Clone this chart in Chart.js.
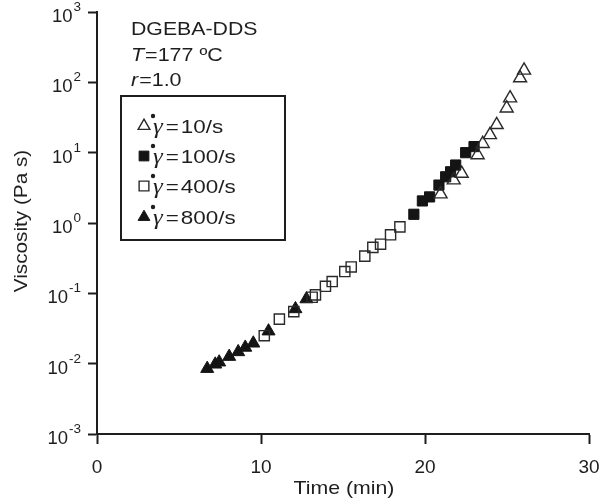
<!DOCTYPE html>
<html>
<head>
<meta charset="utf-8">
<script src="https://cdn.jsdelivr.net/npm/chart.js@4.4.1/dist/chart.umd.min.js"></script>
<style>
html,body{margin:0;padding:0;background:#fff;}
#wrap{width:603px;height:501px;}
</style>
</head>
<body>
<div id="wrap"><canvas id="c" width="603" height="501"></canvas></div>
<script>
// ---- data ----
const rateLabels = ['10/s', '100/s', '400/s', '800/s'];

const time10 = [20.95, 21.75, 22.24, 23.21, 23.52, 23.96, 24.37, 24.98, 25.19, 25.80, 26.04];
const visc10 = [2.57, 4.07, 5.05, 9.27, 13.4, 17.9, 24.9, 42.9, 59.7, 115, 148];

const time100 = [19.32, 19.84, 20.28, 20.85, 21.26, 21.56, 21.87, 22.48, 22.99];
const visc100 = [1.33, 2.06, 2.35, 3.46, 4.54, 5.35, 6.67, 10.0, 12.2];

const time400 = [10.20, 11.12, 12.0, 13.12, 13.32, 13.93, 14.34, 15.11, 15.50, 16.33, 16.82, 17.29, 17.90, 18.47];
const visc400 = [0.025, 0.043, 0.055, 0.088, 0.095, 0.126, 0.147, 0.204, 0.237, 0.338, 0.45, 0.50, 0.68, 0.88];

const time800 = [6.72, 7.21, 7.45, 8.06, 8.61, 9.04, 9.53, 10.46, 12.1, 12.77];
const visc800 = [0.0085, 0.0098, 0.0105, 0.0126, 0.0147, 0.017, 0.0195, 0.029, 0.060, 0.083];

const xTicks = [0, 10, 20, 30];
const yExponents = [3, 2, 1, 0, -1, -2, -3];

const annotLines = ['DGEBA-DDS', 'T', '=177 ºC', 'r', '=1.0'];
const xTitle = 'Time (min)';
const yTitle = 'Viscosity (Pa s)';

// ---- helpers ----
const FONT = "'Liberation Sans', Arial, sans-serif";
const SERIF = "'Liberation Serif', 'Times New Roman', serif";
const INK = '#1e1e1e';
const pts = (xs, ys) => xs.map((x, i) => ({x: x, y: ys[i]}));

function runs(ctx, list, x, y, sx) {
  let cx = x;
  for (const r of list) {
    ctx.save();
    ctx.font = r.font;
    ctx.textAlign = 'left';
    ctx.textBaseline = 'alphabetic';
    ctx.fillStyle = INK;
    ctx.translate(cx, y + (r.dy || 0));
    ctx.scale(sx, 1);
    ctx.fillText(r.t, 0, 0);
    const w = ctx.measureText(r.t).width;
    ctx.restore();
    cx += w * sx + (r.gap || 0);
  }
  return cx;
}

const hollow = {backgroundColor: 'rgba(0,0,0,0)', borderColor: '#2a2a2a', borderWidth: 1.4};
const filled = {backgroundColor: '#141414', borderColor: '#141414', borderWidth: 1};

const datasets = [
  Object.assign({label: rateLabels[0], data: pts(time10, visc10), pointStyle: 'triangle', pointRadius: 7.5}, hollow),
  Object.assign({label: rateLabels[1], data: pts(time100, visc100), pointStyle: 'rect', pointRadius: 7.2}, filled),
  Object.assign({label: rateLabels[2], data: pts(time400, visc400), pointStyle: 'rect', pointRadius: 7.2}, hollow),
  Object.assign({label: rateLabels[3], data: pts(time800, visc800), pointStyle: 'triangle', pointRadius: 7.5}, filled)
];
datasets.forEach(d => { d.pointHoverRadius = d.pointRadius; d.showLine = false; });

const textPlugin = {
  id: 'texts',
  afterDraw(chart) {
    const ctx = chart.ctx;
    const ys = chart.scales.y;
    const SX = 1.12;
    // y tick labels 10^n
    yExponents.forEach(e => {
      const py = ys.getPixelForValue(Math.pow(10, e));
      ctx.save();
      ctx.fillStyle = INK;
      ctx.textBaseline = 'alphabetic';
      ctx.textAlign = 'left';
      const es = String(e);
      ctx.font = '13.5px ' + FONT;
      const ew = ctx.measureText(es).width;
      ctx.font = '18.5px ' + FONT;
      const bw = ctx.measureText('10').width;
      const right = 81;
      const bx = right - ew - bw - 1;
      ctx.fillText('10', bx, py + 10);
      ctx.font = '13.5px ' + FONT;
      ctx.fillText(es, bx + bw + 1, py - 1);
      ctx.restore();
    });
    // y title
    ctx.save();
    ctx.translate(27, 221);
    ctx.rotate(-Math.PI / 2);
    ctx.scale(SX, 1);
    ctx.font = '18.5px ' + FONT;
    ctx.fillStyle = INK;
    ctx.textAlign = 'center';
    ctx.textBaseline = 'alphabetic';
    ctx.fillText(yTitle, 0, 0);
    ctx.restore();
    // x title
    ctx.save();
    ctx.translate(344, 494);
    ctx.scale(SX, 1);
    ctx.font = '19px ' + FONT;
    ctx.fillStyle = INK;
    ctx.textAlign = 'center';
    ctx.textBaseline = 'alphabetic';
    ctx.fillText(xTitle, 0, 0);
    ctx.restore();
    // annotation
    const f = '19px ' + FONT, fi = 'italic 19px ' + FONT;
    runs(ctx, [{t: annotLines[0], font: f}], 131, 35, SX);
    runs(ctx, [{t: annotLines[1], font: fi, gap: 1}, {t: annotLines[2], font: f}], 131, 61, 1.13);
    runs(ctx, [{t: annotLines[3], font: fi, gap: 1}, {t: annotLines[4], font: f}], 131, 86, 1.13);
    // legend box
    ctx.save();
    ctx.strokeStyle = INK;
    ctx.lineWidth = 2;
    ctx.strokeRect(121, 96, 164, 144);
    ctx.restore();
    const rowsY = [126, 156, 186, 217];
    chart.data.datasets.forEach((d, i) => {
      const yy = rowsY[i];
      ctx.save();
      ctx.fillStyle = d.backgroundColor;
      ctx.strokeStyle = d.borderColor;
      ctx.lineWidth = d.borderWidth;
      Chart.helpers.drawPoint(ctx, {
        pointStyle: d.pointStyle, radius: d.pointStyle === 'rect' ? 6.9 : 6.8, rotation: 0,
        borderWidth: d.borderWidth
      }, 144, yy);
      ctx.restore();
      // dot over gamma
      ctx.save();
      ctx.fillStyle = INK;
      ctx.beginPath();
      ctx.arc(153, yy - 10, 2.2, 0, Math.PI * 2);
      ctx.fill();
      ctx.restore();
      runs(ctx, [
        {t: 'γ', font: 'italic 21px ' + SERIF, gap: 3},
        {t: '=', font: '19px ' + FONT, gap: 2},
        {t: d.label, font: '19px ' + FONT}
      ], 153, yy + 7, 1.18);
    });
  }
};

Chart.defaults.font.family = FONT;
Chart.defaults.color = INK;

new Chart(document.getElementById('c'), {
  type: 'scatter',
  data: {datasets: datasets},
  options: {
    responsive: false,
    animation: false,
    events: [],
    layout: {autoPadding: false, padding: {left: 0, top: 12, right: 14, bottom: 0}},
    plugins: {legend: {display: false}, tooltip: {enabled: false}},
    scales: {
      x: {
        type: 'linear', min: 0, max: 30,
        afterBuildTicks: s => { s.ticks = xTicks.map(v => ({value: v})); },
        afterFit: s => { s.height = 67; s.paddingLeft = 0; s.paddingRight = 0; },
        ticks: {font: {size: 19}, color: INK, padding: 12, maxRotation: 0},
        grid: {drawOnChartArea: false, drawTicks: true, tickLength: 10, tickWidth: 2, tickColor: INK},
        border: {display: true, color: INK, width: 2}
      },
      y: {
        type: 'logarithmic', min: 1e-3, max: 1e3,
        afterBuildTicks: s => { s.ticks = yExponents.map(e => ({value: Math.pow(10, e), major: true})); },
        afterFit: s => { s.width = 97; s.paddingTop = 0; s.paddingBottom = 0; },
        ticks: {display: false},
        grid: {drawOnChartArea: false, drawTicks: true, tickLength: 9, tickWidth: 2, tickColor: INK},
        border: {display: true, color: INK, width: 2}
      }
    }
  },
  plugins: [textPlugin]
});
</script>
</body>
</html>
